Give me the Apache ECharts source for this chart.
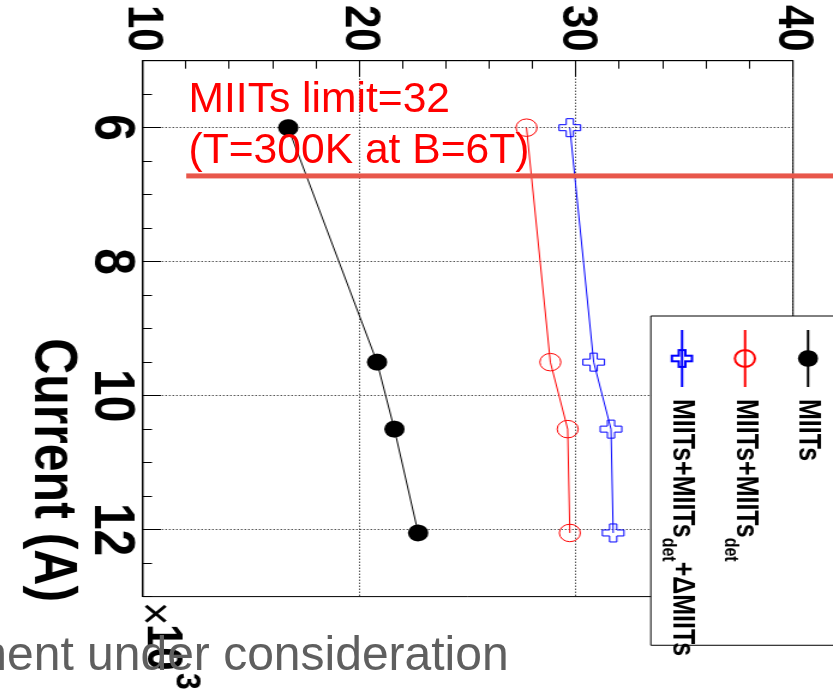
<!DOCTYPE html>
<html>
<head>
<meta charset="utf-8">
<script src="https://cdn.jsdelivr.net/npm/echarts@6/dist/echarts.min.js"></script>
<style>
  html, body { margin: 0; padding: 0; background: #fff; overflow: hidden; }
  #page { position: relative; width: 833px; height: 695px; overflow: hidden; }
  /* The ROOT-style plot is laid out landscape and turned a quarter turn clockwise,
     with the slight vertical stretch of the exported figure. */
  #plot { position: absolute; left: 0; top: 0; width: 695px; height: 694px;
          transform-origin: 0 0; transform: translateX(833px) rotate(90deg) scaleY(1.2); }
  #notes { position: absolute; left: 0; top: 0; width: 833px; height: 695px; pointer-events: none; }
</style>
</head>
<body>
<div id="page"><div id="plot"></div><div id="notes"></div></div>
<script>
const FONT = '"Liberation Sans", Arial, Helvetica, sans-serif';

// Quench current (A) and the integrated MIITs at each point
const currentA = [6000, 9500, 10500, 12050];
const miits = [16.7, 20.8, 21.6, 22.7];
const miitsDet = [27.7, 28.8, 29.6, 29.7];
const miitsDetDelta = [29.7, 30.8, 31.6, 31.7];
const seriesNames = ['MIITs', 'MIITs+MIITs_det', 'MIITs+MIITs_det+\u0394MIITs'];

// Axis ranges and labelled ticks
const currentRange = [5000, 13000];
const currentTicks = [6000, 8000, 10000, 12000];
const miitsRange = [10, 40];

// Limit marker drawn across the plot
const limitCurrent = 6720;
const limitMiitsSpan = [12, 42];

const pairs = ys => currentA.map((c, i) => [c, ys[i]]);
const crossPath = 'path://M-1,-3L1,-3L1,-1L3,-1L3,1L1,1L1,3L-1,3L-1,1L-3,1L-3,-1L-1,-1Z';
const black = '#000000';

const plot = echarts.init(document.getElementById('plot'), null, { renderer: 'canvas' });
plot.setOption({
  animation: false,
  backgroundColor: 'transparent',
  grid: {
    left: 60.7, right: 98.4, top: 33.3, bottom: 119,
    show: true, borderColor: black, borderWidth: 1, backgroundColor: 'transparent',
    containLabel: false, outerBoundsMode: 'none'
  },
  xAxis: [
    {
      // half-unit minor ticks along the current axis
      type: 'value', min: currentRange[0], max: currentRange[1], interval: 500, position: 'bottom',
      axisLine: { show: true, onZero: false, lineStyle: { color: black, width: 1 } },
      axisTick: { show: true, inside: true, length: 7.5, lineStyle: { color: black, width: 1 } },
      axisLabel: { show: false },
      splitLine: { show: false }
    },
    {
      type: 'value', min: currentRange[0], max: currentRange[1], position: 'bottom',
      axisLine: { show: false, onZero: false },
      axisTick: { show: true, inside: true, length: 15, customValues: currentTicks,
                  lineStyle: { color: black, width: 1 } },
      axisLabel: { show: true, customValues: currentTicks, formatter: v => String(v / 1000),
                   margin: 3, color: black, fontFamily: FONT, fontWeight: 'bold', fontSize: 48 },
      splitLine: { show: true, lineStyle: { color: black, width: 1, type: [1, 2] } },
      name: 'Current (A)', nameLocation: 'middle', nameGap: 51, nameMoveOverlap: false,
      nameTextStyle: { color: black, fontFamily: FONT, fontWeight: 'bold', fontSize: 50,
                       padding: [0, 0, 0, 283] }
    }
  ],
  yAxis: {
    type: 'value', min: miitsRange[0], max: miitsRange[1], interval: 10, position: 'left',
    axisLine: { show: true, onZero: false, lineStyle: { color: black, width: 1 } },
    axisTick: { show: true, inside: true, length: 16, lineStyle: { color: black, width: 1 } },
    minorTick: { show: true, splitNumber: 5, length: 8, lineStyle: { color: black, width: 1 } },
    axisLabel: { margin: 9, color: black, fontFamily: FONT, fontWeight: 'bold', fontSize: 42,
                 padding: [8, 0, 0, 0] },
    splitLine: { show: true, lineStyle: { color: black, width: 1, type: [1, 2] } }
  },
  legend: {
    data: seriesNames, orient: 'vertical', left: 316, top: -19.2,
    // the last entry runs past the right edge of the frame
    padding: [20, -11, 6, 13], itemWidth: 57, itemHeight: 21, itemGap: 12.5,
    backgroundColor: '#ffffff', borderColor: black, borderWidth: 1, borderRadius: 0,
    selectedMode: false,
    formatter: n => n.replace('_det', '{sub|det}'),
    textStyle: {
      color: black, fontFamily: FONT, fontWeight: 'bold', fontSize: 25, lineHeight: 40,
      padding: [0, 0, 0, 7],
      rich: {
        sub: { color: black, fontFamily: FONT, fontWeight: 'bold', fontSize: 16, lineHeight: 16,
               padding: [24, 0, 0, 0] }
      }
    }
  },
  graphic: [
    { type: 'text', x: 602, y: 566.7, z: 10,
      style: { text: '\u00d7', fontFamily: FONT, fontSize: 40, fill: black, verticalAlign: 'middle' } },
    { type: 'text', x: 624, y: 559.5, z: 10,
      style: { text: '10', fontFamily: FONT, fontWeight: 'bold', fontSize: 42, fill: black, verticalAlign: 'middle' } },
    { type: 'text', x: 673, y: 539, z: 10,
      style: { text: '3', fontFamily: FONT, fontWeight: 'bold', fontSize: 30, fill: black, verticalAlign: 'middle' } }
  ],
  series: [
    {
      name: seriesNames[0], type: 'line', xAxisIndex: 0, yAxisIndex: 0, data: pairs(miits),
      symbol: 'circle', symbolSize: 17,
      itemStyle: { color: black },
      lineStyle: { color: black, width: 1 },
      emphasis: { disabled: true }, z: 3
    },
    {
      name: seriesNames[1], type: 'line', xAxisIndex: 0, yAxisIndex: 0, data: pairs(miitsDet),
      symbol: 'circle', symbolSize: 17.5,
      itemStyle: { color: 'rgba(255,255,255,0)', borderColor: '#ff0000', borderWidth: 1 },
      lineStyle: { color: '#ff0000', width: 1 },
      emphasis: { disabled: true }, z: 3
    },
    {
      name: seriesNames[2], type: 'line', xAxisIndex: 0, yAxisIndex: 0, data: pairs(miitsDetDelta),
      symbol: crossPath, symbolSize: 18,
      itemStyle: { color: 'rgba(255,255,255,0)', borderColor: '#0000ff', borderWidth: 1 },
      lineStyle: { color: '#0000ff', width: 1 },
      emphasis: { disabled: true }, z: 3
    },
    {
      name: 'limit', type: 'line', xAxisIndex: 0, yAxisIndex: 0,
      data: limitMiitsSpan.map(m => [limitCurrent, m]),
      symbol: 'none', clip: false, silent: true,
      lineStyle: { color: '#e8574b', width: 5 },
      emphasis: { disabled: true }, z: 6
    }
  ]
});

// Slide annotations written over the figure
const notes = echarts.init(document.getElementById('notes'), null, { renderer: 'canvas' });
notes.setOption({
  animation: false,
  backgroundColor: 'transparent',
  graphic: [
    { type: 'text', x: 188.5, y: 100.2,
      style: { text: 'MIITs limit=32', fontFamily: FONT, fontSize: 42.6, fill: '#ff0000', verticalAlign: 'middle' } },
    { type: 'text', x: 188.5, y: 151.2,
      style: { text: '(T=300K at B=6T)', fontFamily: FONT, fontSize: 42.6, fill: '#ff0000', verticalAlign: 'middle' } },
    { type: 'text', x: -33, y: 656.4,
      style: { text: 'ment under consideration', fontFamily: FONT, fontSize: 48, fill: '#5f5f5f', verticalAlign: 'middle' } }
  ]
});
</script>
</body>
</html>
